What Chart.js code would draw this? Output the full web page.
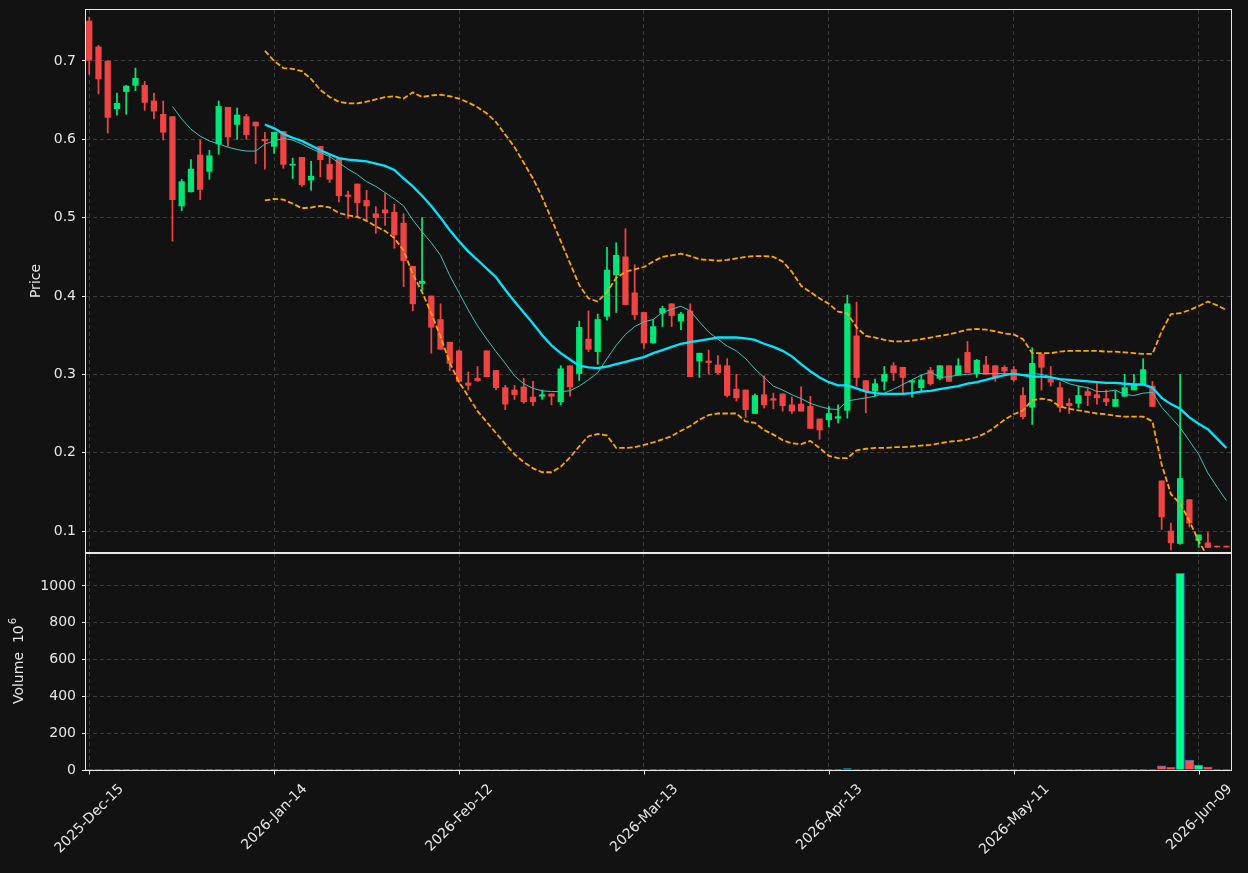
<!DOCTYPE html>
<html><head><meta charset="utf-8">
<script src="https://cdn.jsdelivr.net/npm/chart.js@4.4.1/dist/chart.umd.min.js"></script>
<style>
html,body{margin:0;padding:0;background:#121212;width:1248px;height:873px;overflow:hidden}
#c1{position:absolute;left:0;top:0;width:1248px;height:553px}
#c2{position:absolute;left:0;top:553px;width:1248px;height:320px}
</style></head><body>
<canvas id="c1" width="1248" height="553"></canvas>
<canvas id="c2" width="1248" height="320"></canvas>
<script>
// ---- data (bar index = trading day) ----
const tickIndex  = [0, 20, 40, 60, 80, 100, 120];
const tickLabels = ['2025-Dec-15','2026-Jan-14','2026-Feb-12','2026-Mar-13','2026-Apr-13','2026-May-11','2026-Jun-09'];
const priceTicks = [0.1, 0.2, 0.3, 0.4, 0.5, 0.6, 0.7];
const volumeTicks = [0, 200, 400, 600, 800, 1000];

const opens = [0.751,0.718,0.700,0.639,0.661,0.669,0.669,0.649,0.632,0.629,
0.515,0.533,0.580,0.559,0.594,0.641,0.619,0.629,0.622,0.600,
0.591,0.610,0.567,0.577,0.548,0.591,0.568,0.575,0.529,0.543,
0.522,0.505,0.510,0.507,0.493,0.438,0.416,0.400,0.370,0.341,
0.330,0.289,0.295,0.330,0.305,0.283,0.280,0.284,0.271,0.272,
0.275,0.265,0.311,0.301,0.345,0.329,0.374,0.427,0.450,0.404,
0.379,0.340,0.378,0.390,0.368,0.381,0.317,0.317,0.312,0.311,
0.281,0.280,0.250,0.274,0.269,0.275,0.261,0.262,0.259,0.243,
0.242,0.244,0.254,0.349,0.292,0.279,0.291,0.311,0.309,0.290,
0.283,0.305,0.295,0.311,0.299,0.328,0.301,0.312,0.311,0.309,
0.306,0.273,0.258,0.326,0.294,0.283,0.263,0.263,0.278,0.274,
0.269,0.259,0.272,0.280,0.287,0.285,0.164,0.100,0.084,0.140,
0.088,0.085,0.0795,0.0795];
const highs = [0.756,0.720,0.700,0.659,0.669,0.691,0.674,0.659,0.649,0.629,
0.549,0.574,0.599,0.586,0.649,0.641,0.640,0.632,0.622,0.609,
0.609,0.610,0.576,0.577,0.572,0.591,0.580,0.575,0.534,0.543,
0.535,0.514,0.531,0.517,0.505,0.438,0.500,0.400,0.390,0.341,
0.331,0.303,0.310,0.330,0.305,0.286,0.286,0.295,0.291,0.280,
0.275,0.311,0.311,0.368,0.381,0.377,0.462,0.468,0.486,0.440,
0.379,0.370,0.387,0.390,0.379,0.390,0.327,0.331,0.324,0.320,
0.300,0.280,0.275,0.298,0.276,0.275,0.271,0.284,0.272,0.243,
0.259,0.261,0.401,0.392,0.292,0.294,0.310,0.315,0.309,0.292,
0.299,0.309,0.311,0.311,0.320,0.342,0.319,0.323,0.311,0.311,
0.310,0.283,0.334,0.326,0.310,0.290,0.269,0.285,0.283,0.289,
0.280,0.279,0.300,0.300,0.320,0.291,0.164,0.110,0.300,0.140,
0.095,0.098,0.0795,0.0795];
const lows = [0.683,0.658,0.608,0.631,0.632,0.662,0.637,0.626,0.599,0.470,
0.509,0.533,0.523,0.549,0.581,0.591,0.600,0.600,0.569,0.562,
0.582,0.563,0.550,0.540,0.535,0.552,0.545,0.520,0.499,0.501,
0.497,0.480,0.490,0.461,0.412,0.381,0.407,0.327,0.332,0.305,
0.289,0.280,0.291,0.297,0.280,0.255,0.268,0.263,0.260,0.268,
0.261,0.261,0.272,0.292,0.329,0.313,0.369,0.379,0.389,0.370,
0.333,0.340,0.361,0.361,0.357,0.297,0.296,0.300,0.300,0.271,
0.266,0.245,0.250,0.257,0.256,0.253,0.250,0.253,0.231,0.217,
0.233,0.238,0.244,0.285,0.251,0.272,0.280,0.292,0.276,0.271,
0.278,0.286,0.293,0.291,0.299,0.302,0.296,0.300,0.291,0.301,
0.291,0.243,0.236,0.280,0.285,0.252,0.250,0.257,0.260,0.262,
0.260,0.259,0.272,0.280,0.287,0.259,0.102,0.076,0.083,0.105,
0.079,0.079,0.0795,0.0795];
const closes = [0.701,0.677,0.628,0.646,0.668,0.678,0.647,0.636,0.609,0.523,
0.546,0.562,0.536,0.579,0.642,0.603,0.631,0.606,0.617,0.598,
0.609,0.568,0.568,0.542,0.553,0.574,0.549,0.528,0.527,0.519,
0.515,0.500,0.506,0.478,0.445,0.390,0.419,0.360,0.332,0.314,
0.291,0.286,0.292,0.297,0.283,0.262,0.274,0.265,0.265,0.274,
0.272,0.307,0.284,0.360,0.332,0.370,0.433,0.452,0.389,0.376,
0.340,0.361,0.384,0.375,0.377,0.297,0.327,0.315,0.302,0.273,
0.270,0.255,0.273,0.261,0.267,0.260,0.253,0.253,0.231,0.229,
0.250,0.246,0.390,0.296,0.278,0.288,0.300,0.302,0.296,0.292,
0.293,0.288,0.311,0.291,0.311,0.302,0.318,0.300,0.295,0.304,
0.293,0.246,0.314,0.309,0.290,0.258,0.260,0.273,0.273,0.270,
0.265,0.268,0.283,0.287,0.306,0.259,0.118,0.085,0.167,0.110,
0.095,0.079,0.0795,0.0795];
// volume in millions
const volumes = [0.5,0.5,0.5,0.5,0.5,0.5,0.5,0.5,0.5,2,
0.5,0.5,0.5,0.5,0.5,0.5,0.5,0.5,0.5,0.5,
0.5,0.5,0.5,0.5,0.5,0.5,0.5,0.5,0.5,0.5,
0.5,0.5,0.5,0.5,0.5,0.5,0.5,0.5,0.5,0.5,
0.5,0.5,0.5,0.5,0.5,0.5,0.5,0.5,0.5,0.5,
0.5,0.5,0.5,0.5,0.5,0.5,0.5,0.5,0.5,0.5,
0.5,0.5,0.5,0.5,0.5,0.5,0.5,0.5,0.5,0.5,
0.5,0.5,0.5,0.5,0.5,0.5,0.5,0.5,0.5,0.5,
0.5,0.5,8,3,0.5,0.5,0.5,0.5,0.5,0.5,
0.5,0.5,0.5,0.5,0.5,0.5,0.5,0.5,0.5,0.5,
0.5,0.5,3,0.5,0.5,0.5,0.5,0.5,0.5,0.5,
0.5,0.5,0.5,0.5,0.5,0.5,22,15,1068,54,
27,16,0.5,0.5];
// moving averages / bands as drawn in the reference (null = not drawn)
const ma10 = [null,null,null,null,null,null,null,null,null,0.642,
0.626,0.613,0.604,0.598,0.594,0.590,0.587,0.585,0.585,0.594,
0.598,0.601,0.599,0.594,0.588,0.583,0.578,0.570,0.562,0.555,
0.546,0.540,0.532,0.524,0.515,0.497,0.482,0.468,0.452,0.426,
0.404,0.382,0.362,0.345,0.329,0.314,0.298,0.288,0.282,0.279,
0.278,0.278,0.279,0.285,0.293,0.302,0.320,0.337,0.351,0.361,
0.367,0.370,0.379,0.383,0.387,0.381,0.367,0.354,0.345,0.336,
0.330,0.320,0.307,0.296,0.285,0.280,0.274,0.269,0.263,0.259,
0.256,0.255,0.266,0.268,0.270,0.272,0.276,0.281,0.287,0.293,
0.299,0.303,0.296,0.297,0.299,0.300,0.301,0.301,0.301,0.301,
0.300,0.299,0.301,0.300,0.297,0.293,0.288,0.285,0.283,0.278,
0.278,0.280,0.274,0.273,0.276,0.277,0.258,0.245,0.232,0.215,
0.198,0.174,0.156,0.139];
const ma20 = [null,null,null,null,null,null,null,null,null,null,
null,null,null,null,null,null,null,null,null,0.619,
0.614,0.607,0.602,0.598,0.592,0.586,0.581,0.576,0.574,0.573,
0.572,0.569,0.566,0.561,0.550,0.540,0.528,0.515,0.500,0.484,
0.470,0.457,0.446,0.435,0.424,0.408,0.393,0.379,0.365,0.350,
0.337,0.327,0.319,0.311,0.309,0.308,0.310,0.313,0.316,0.319,
0.322,0.327,0.331,0.335,0.339,0.341,0.343,0.345,0.347,0.347,
0.347,0.346,0.344,0.339,0.335,0.330,0.323,0.313,0.304,0.296,
0.290,0.286,0.286,0.282,0.278,0.276,0.275,0.275,0.275,0.276,
0.278,0.279,0.281,0.283,0.285,0.288,0.290,0.293,0.296,0.299,
0.301,0.299,0.297,0.297,0.296,0.294,0.293,0.292,0.291,0.290,
0.289,0.289,0.288,0.287,0.287,0.283,0.270,0.262,0.256,0.245,
0.237,0.230,0.218,0.206];
const bbUpper = [null,null,null,null,null,null,null,null,null,null,
null,null,null,null,null,null,null,null,null,0.713,
0.700,0.691,0.690,0.687,0.677,0.663,0.654,0.648,0.646,0.646,
0.648,0.651,0.654,0.655,0.652,0.660,0.654,0.656,0.657,0.655,
0.652,0.647,0.641,0.633,0.622,0.606,0.590,0.570,0.550,0.526,
0.498,0.470,0.442,0.414,0.397,0.393,0.405,0.423,0.431,0.434,
0.437,0.444,0.450,0.452,0.454,0.451,0.447,0.446,0.445,0.446,
0.448,0.450,0.451,0.451,0.450,0.444,0.431,0.413,0.405,0.397,
0.390,0.380,0.378,0.360,0.349,0.347,0.344,0.342,0.342,0.343,
0.345,0.347,0.349,0.351,0.354,0.357,0.358,0.357,0.355,0.352,
0.351,0.345,0.327,0.327,0.327,0.329,0.330,0.330,0.330,0.330,
0.329,0.329,0.328,0.327,0.326,0.326,0.355,0.377,0.378,0.382,
0.387,0.393,0.388,0.382];
const bbLower = [null,null,null,null,null,null,null,null,null,null,
null,null,null,null,null,null,null,null,null,0.522,
0.524,0.523,0.518,0.512,0.513,0.515,0.513,0.506,0.503,0.501,
0.496,0.489,0.483,0.474,0.458,0.428,0.405,0.378,0.348,0.315,
0.290,0.272,0.253,0.239,0.225,0.211,0.198,0.188,0.180,0.175,
0.175,0.182,0.194,0.208,0.221,0.224,0.222,0.206,0.206,0.207,
0.210,0.213,0.217,0.221,0.228,0.234,0.242,0.248,0.250,0.250,
0.250,0.240,0.238,0.229,0.223,0.216,0.212,0.211,0.215,0.206,
0.196,0.193,0.193,0.203,0.205,0.206,0.206,0.207,0.207,0.208,
0.209,0.210,0.212,0.214,0.215,0.217,0.220,0.225,0.233,0.242,
0.249,0.254,0.267,0.269,0.267,0.259,0.256,0.254,0.252,0.250,
0.249,0.247,0.246,0.246,0.246,0.240,0.185,0.147,0.135,0.113,
0.087,0.067,0.048,0.030];

// ---- styling ----
const GRID = '#3c3c3c', TXT = '#e6e6e6', FRAME = '#e8e8e8';
const UP = '#00e676', DOWN = '#ef4444';
const VUP = '#00ff88', VDOWN = '#ff4d4d', VEDGE = '#1f77b4';
const FONT = "'DejaVu Sans', 'Liberation Sans', sans-serif";
const X_MIN = -0.35, X_MAX = 123.5;
const P_MIN = 0.0732, P_MAX = 0.7651, V_MAX = 1179;

const idx = opens.map((_, i) => i);
const up = idx.map(i => closes[i] > opens[i]);
const candleCol = idx.map(i => up[i] ? UP : DOWN);
const volCol = idx.map(i => up[i] ? VUP : VDOWN);
const pts = arr => idx.filter(i => arr[i] !== null).map(i => ({x: i, y: arr[i]}));

const framePlugin = {
  id: 'frame',
  afterDraw(chart, args, opts) {
    const {ctx, chartArea: a} = chart;
    ctx.save();
    ctx.strokeStyle = FRAME; ctx.lineWidth = 1;
    const t = Math.round(a.top) + (opts.topOff || 0) - (opts.topOff ? 0 : 0.5);
    const b = Math.round(a.bottom) + 0.5;
    ctx.strokeRect(Math.round(a.left) - 0.5, t, Math.round(a.right - a.left) + 1, b - t);
    ctx.restore();
    // y axis title
    ctx.save();
    ctx.fillStyle = TXT;
    ctx.translate(opts.titleX, (a.top + a.bottom) / 2);
    ctx.rotate(-Math.PI / 2);
    ctx.textBaseline = 'middle';
    ctx.font = '14px ' + FONT;
    if (opts.sup) {
      const w1 = ctx.measureText(opts.title).width;
      ctx.font = '10px ' + FONT;
      const w2 = ctx.measureText(opts.sup).width;
      const x0 = -(w1 + w2) / 2;
      ctx.font = '14px ' + FONT;
      ctx.textAlign = 'left';
      ctx.fillText(opts.title, x0, 0);
      ctx.font = '10px ' + FONT;
      ctx.fillText(opts.sup, x0 + w1 + 1, -6);
    } else {
      ctx.textAlign = 'center';
      ctx.fillText(opts.title, 0, 0);
    }
    ctx.restore();
  }
};

const xLabelPlugin = {
  id: 'xlabels',
  afterDraw(chart) {
    const {ctx, chartArea: a, scales} = chart;
    const xs = scales.x;
    ctx.save();
    ctx.strokeStyle = FRAME; ctx.lineWidth = 1;
    ctx.fillStyle = TXT;
    ctx.font = '14px ' + FONT;
    tickIndex.forEach((v, k) => {
      const px = Math.round(xs.getPixelForValue(v)) + 0.5;
      ctx.beginPath(); ctx.moveTo(px, a.bottom); ctx.lineTo(px, a.bottom + 4.5); ctx.stroke();
      const label = tickLabels[k];
      const L = ctx.measureText(label).width;
      const h = 16.5;
      const bb = (L + h) * Math.SQRT1_2;
      const top = a.bottom + 11;
      ctx.save();
      ctx.translate(px, top + bb / 2);
      ctx.rotate(-Math.PI / 4);
      ctx.textAlign = 'center'; ctx.textBaseline = 'middle';
      ctx.fillText(label, 0, 0);
      ctx.restore();
    });
    ctx.restore();
  }
};

function zeroPad(s) { s.paddingTop = 0; s.paddingBottom = 0; s.paddingLeft = 0; s.paddingRight = 0; }

const xScaleBase = {
  type: 'linear', min: X_MIN, max: X_MAX, offset: false,
  afterBuildTicks: s => { s.ticks = tickIndex.map(v => ({value: v})); },
  ticks: {display: false},
  grid: {color: GRID, lineWidth: 1, drawTicks: false, offset: false},
  border: {display: false, dash: [4, 3]}
};

// ---- price chart ----
new Chart(document.getElementById('c1'), {
  type: 'bar',
  data: {
    datasets: [
      {type: 'line', data: pts(ma20), borderColor: '#00e5ff', borderWidth: 2.3, pointRadius: 0, tension: 0, order: 0},
      {type: 'line', data: pts(ma10), borderColor: '#3cc4b8', borderWidth: 1, pointRadius: 0, tension: 0, order: 0},
      {type: 'line', data: pts(bbUpper), borderColor: '#ffa500', borderWidth: 1.8, borderDash: [5.5, 2.4], pointRadius: 0, tension: 0, order: 0},
      {type: 'line', data: pts(bbLower), borderColor: '#ffa500', borderWidth: 1.8, borderDash: [5.5, 2.4], pointRadius: 0, tension: 0, order: 0},
      {type: 'bar', data: idx.map(i => ({x: i, y: [opens[i], closes[i]]})), backgroundColor: candleCol, borderWidth: 0, barThickness: 5.6, minBarLength: 1, grouped: false, order: 1},
      {type: 'bar', data: idx.map(i => ({x: i, y: [lows[i], highs[i]]})), backgroundColor: candleCol, borderWidth: 0, barThickness: 1.1, minBarLength: 1, grouped: false, order: 2}
    ]
  },
  options: {
    responsive: false, animation: false, devicePixelRatio: 1,
    layout: {padding: {top: 10, right: 17, bottom: 1, left: 0}},
    plugins: {legend: {display: false}, tooltip: {enabled: false}, frame: {titleX: 36, title: 'Price'}},
    scales: {
      x: Object.assign({}, xScaleBase, {afterFit: s => { s.height = 0; zeroPad(s); }}),
      y: {
        type: 'linear', min: P_MIN, max: P_MAX,
        afterBuildTicks: s => { s.ticks = priceTicks.map(v => ({value: v})); },
        afterFit: s => { s.width = 86; zeroPad(s); },
        ticks: {color: TXT, font: {family: FONT, size: 14}, padding: 6, callback: v => Number(v).toFixed(1)},
        grid: {color: GRID, lineWidth: 1, drawTicks: true, tickLength: 4, tickColor: FRAME, tickWidth: 1, tickBorderDash: []},
        border: {display: false, dash: [4, 3]}
      }
    }
  },
  plugins: [framePlugin]
});

// ---- volume chart ----
new Chart(document.getElementById('c2'), {
  type: 'bar',
  data: {
    datasets: [
      {data: idx.map(i => ({x: i, y: volumes[i]})), backgroundColor: volCol, borderColor: VEDGE, borderWidth: 1, barThickness: 8.6, grouped: false}
    ]
  },
  options: {
    responsive: false, animation: false, devicePixelRatio: 1,
    layout: {padding: {top: 0, right: 17, bottom: 0, left: 0}},
    plugins: {legend: {display: false}, tooltip: {enabled: false}, frame: {titleX: 19, title: 'Volume  10', sup: '6', topOff: 0.5}},
    scales: {
      x: Object.assign({}, xScaleBase, {afterFit: s => { s.height = 103; zeroPad(s); }}),
      y: {
        type: 'linear', min: 0, max: V_MAX,
        afterBuildTicks: s => { s.ticks = volumeTicks.map(v => ({value: v})); },
        afterFit: s => { s.width = 86; zeroPad(s); },
        ticks: {color: TXT, font: {family: FONT, size: 14}, padding: 6, callback: v => String(v)},
        grid: {color: GRID, lineWidth: 1, drawTicks: true, tickLength: 4, tickColor: FRAME, tickWidth: 1, tickBorderDash: []},
        border: {display: false, dash: [4, 3]}
      }
    }
  },
  plugins: [framePlugin, xLabelPlugin]
});
</script></body></html>
